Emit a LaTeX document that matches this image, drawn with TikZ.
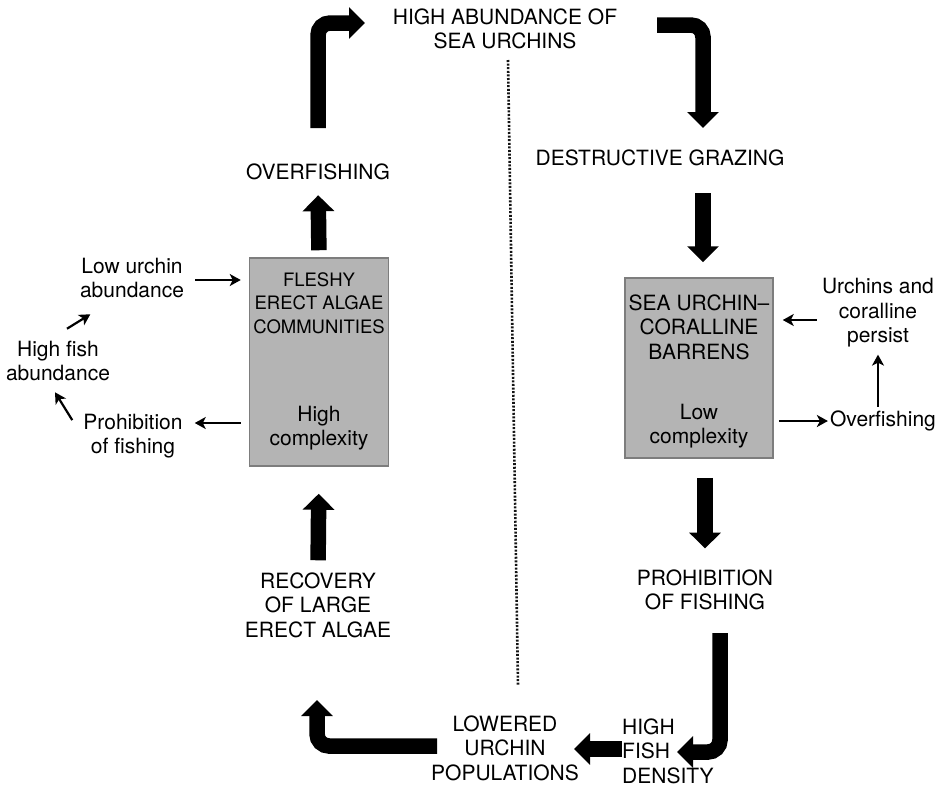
\documentclass[tikz,border=0pt]{standalone}
\usepackage{fontspec}
\setmainfont{TeX Gyre Heros}
\usetikzlibrary{arrows.meta}
\definecolor{boxfill}{RGB}{180,180,180}
\definecolor{boxline}{RGB}{125,125,125}
\definecolor{dotcol}{RGB}{20,20,20}
\begin{document}
\begin{tikzpicture}[x=1pt,y=-1pt,
 txt/.style={font=\fontsize{21}{24.5}\selectfont, align=center, inner sep=2pt},
 boxtxt/.style={font=\fontsize{18.5}{23.5}\selectfont, align=center, inner sep=2pt},
 box/.style={draw=boxline, fill=boxfill, line width=1.5pt, inner sep=0pt},
 bigarrow/.style={line width=15.5pt, -{Triangle[length=16pt,width=31pt]}, rounded corners=12pt},
 thinarrow/.style={line width=2.2pt, -{Stealth[length=11pt,width=12pt,inset=3pt]}},
 dotline/.style={dotcol, line width=2.6pt, dash pattern=on 2pt off 1.6pt}
]
\useasboundingbox (0,0) rectangle (938,788);

% dotted divider
\coordinate (dtop) at (508,60);
\coordinate (dbot) at (518,685);
\draw[dotline] (dtop) -- (dbot);

% boxes
\node[box, minimum width=139pt, minimum height=208pt] (fb) at (319,362) {};
\node[boxtxt] (fbt) at (319,303) {FLESHY\\ERECT ALGAE\\COMMUNITIES};
\node[txt] (fbc) at (319,428) {High\\complexity};

\node[box, minimum width=148pt, minimum height=180pt] (rb) at (699,368) {};
\node[txt] (rbt) at (699,327) {SEA URCHIN–\\CORALLINE\\BARRENS};
\node[txt] (rbc) at (699,426) {Low\\complexity};

% main cycle labels
\node[txt] (hab) at (505,29) {HIGH ABUNDANCE OF\\SEA URCHINS};
\node[txt] (dg) at (660,158) {DESTRUCTIVE GRAZING};
\node[txt] (of1) at (318,172) {OVERFISHING};
\node[txt] (pof) at (705,590) {PROHIBITION\\OF FISHING};
\node[txt] (rec) at (318,605) {RECOVERY\\OF LARGE\\ERECT ALGAE};
\node[txt] (low) at (505,748) {LOWERED\\URCHIN\\POPULATIONS};
\node[txt, align=left, anchor=west] (hfd) at (620,751) {HIGH\\FISH\\DENSITY};

% side labels
\node[txt] (lu) at (132,278) {Low urchin\\abundance};
\node[txt] (hfa) at (58,361) {High fish\\abundance};
\node[txt] (pf) at (133,436) {Prohibition\\of fishing};
\node[txt] (ucp) at (878,313) {Urchins and\\coralline\\persist};
\node[txt] (ovf) at (883,421) {Overfishing};

% big bent arrows
\coordinate (tl1) at (318,128);
\coordinate (tl2) at (365,23);
\draw[bigarrow] (tl1) |- (tl2);

\coordinate (tr1) at (657,25);
\coordinate (tr2) at (703,128);
\draw[bigarrow] (tr1) -| (tr2);

\coordinate (br1) at (720,633);
\coordinate (br2) at (677,752);
\draw[bigarrow] (br1) |- (br2);

\coordinate (bl1) at (437,746);
\coordinate (bl2) at (317,700);
\draw[bigarrow] (bl1) -| (bl2);

% big straight arrows
\draw[bigarrow, shorten <=25pt, shorten >=15pt] (dg.south -| tr2) -- (tr2 |- rb.north);
\draw[bigarrow, shorten <=19pt, shorten >=19pt] (rb.south -| pof.north) -- (pof.north);
\draw[bigarrow, shorten <=7pt, shorten >=13pt] (fb.north) -- (of1.south);
\draw[bigarrow, shorten <=10pt, shorten >=27pt] (rec.north) -- (fb.south);
\draw[bigarrow, shorten <=-2pt, shorten >=-7pt] ([yshift=2pt]hfd.west) -- ([yshift=2pt]hfd.west -| low.east);

% thin arrows
\draw[thinarrow, shorten <=9pt, shorten >=8pt] ([yshift=-2pt]lu.east) -- ([yshift=-2pt]lu.east -| fb.west);
\draw[thinarrow, shorten <=8pt, shorten >=10pt] ([yshift=13pt]pf.east -| fb.west) -- ([yshift=13pt]pf.east);
\draw[thinarrow] ([shift={(-9,8.5)}]pf.north west) -- ([shift={(-3,9)}]hfa.south);
\draw[thinarrow] ([shift={(9,-10)}]hfa.north) -- ([shift={(12.5,14)}]lu.south west);
\draw[thinarrow, shorten <=3pt, shorten >=9pt] ([yshift=-7pt]ucp.west) -- ([yshift=-7pt]ucp.west -| rb.east);
\draw[thinarrow, shorten <=5pt] (rb.east |- ovf.west) -- (ovf.west);
\draw[thinarrow, shorten <=2pt, shorten >=5pt] (ovf.north -| ucp.south) -- (ucp.south);
\end{tikzpicture}
\end{document}
